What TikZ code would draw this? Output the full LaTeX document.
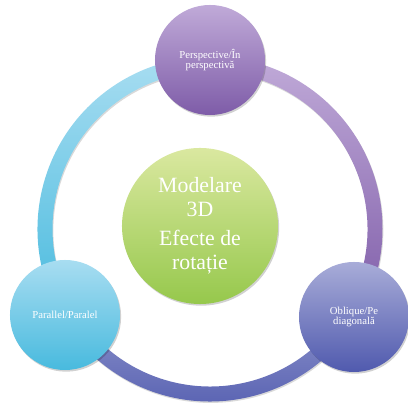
\documentclass[tikz,border=0pt]{standalone}
\usepackage{fontspec}
\setmainfont{Liberation Serif}
\usetikzlibrary{shadows}

\definecolor{perspTop}{RGB}{192,170,216}
\definecolor{perspBot}{RGB}{126,92,168}
\definecolor{paraTop}{RGB}{168,221,241}
\definecolor{paraBot}{RGB}{72,186,222}
\definecolor{obliTop}{RGB}{168,172,216}
\definecolor{obliBot}{RGB}{80,90,174}
\definecolor{coreTop}{RGB}{218,232,160}
\definecolor{coreBot}{RGB}{150,200,76}

\begin{document}
\begin{tikzpicture}[x=0.025cm, y=0.025cm,
  stage/.style={circle, minimum size=2.75cm, inner sep=0pt, align=center, text=white,
    font=\fontsize{7.6}{7.6}\selectfont,
    drop shadow={shadow xshift=0.8pt, shadow yshift=-1.2pt, opacity=0.18, fill=black}},
  ringpart/.style={drop shadow={shadow xshift=0.6pt, shadow yshift=-1pt, opacity=0.15, fill=black}}]
  \useasboundingbox (0,0) rectangle (408,406);
  \coordinate (ring) at (210,177);
  % ring between the stages
  \foreach \from/\to/\ctop/\cbot in {90/-31/perspTop/perspBot, -31/-149/obliTop!85!white/obliBot, 211/90/paraTop/paraBot}
    \path[ringpart, top color=\ctop, bottom color=\cbot]
      (ring) ++(\from:172.5) arc[start angle=\from, end angle=\to, radius=172.5]
      -- ++(\to:-15) arc[start angle=\to, end angle=\from, radius=157.5] -- cycle;
  % stages
  \node[stage, top color=perspTop, bottom color=perspBot] (persp) at (210,346) {Perspective/În\\perspectivă};
  \node[stage, top color=paraTop, bottom color=paraBot] (parallel) at (65,91) {Parallel/Paralel};
  \node[stage, top color=obliTop, bottom color=obliBot] (oblique) at (354,89) {Oblique/Pe\\diagonală};
  \node[stage, minimum size=3.9cm, top color=coreTop, bottom color=coreBot,
    font=\fontsize{15.5}{17}\selectfont] (core) at (200,180) {Modelare\\3D\\[4pt]Efecte de\\rotație};
\end{tikzpicture}
\end{document}
